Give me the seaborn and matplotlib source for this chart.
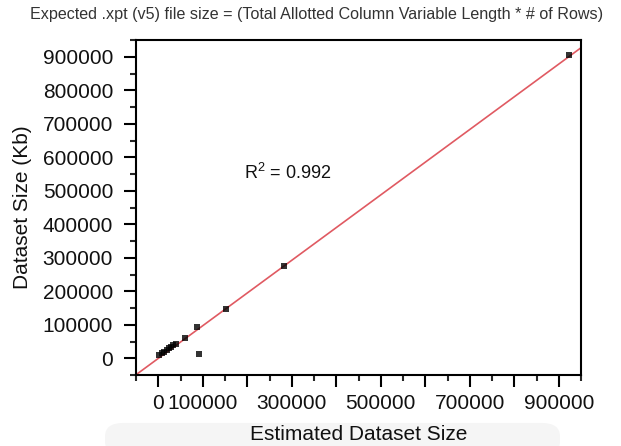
import matplotlib
matplotlib.use("Agg")
import matplotlib.pyplot as plt
import seaborn as sns
import numpy as np
import pandas as pd
from matplotlib.ticker import FixedLocator, FixedFormatter, MultipleLocator
from matplotlib.patches import FancyBboxPatch

sns.set_style("white")
plt.rcParams["font.family"] = ["Liberation Sans", "DejaVu Sans"]
plt.rcParams["mathtext.fontset"] = "custom"
plt.rcParams["mathtext.rm"] = "Liberation Sans"
plt.rcParams["mathtext.it"] = "Liberation Sans"

# Data (estimated from reference)
estimated_size = [1000, 8300, 13400, 18800, 23300, 28400, 33600, 39600,
                  60400, 88100, 91700, 151500, 281900, 923300]
dataset_size = [9000, 15800, 20000, 25900, 29800, 33700, 38700, 43800,
                61700, 93300, 14000, 148000, 275000, 905900]
x_ticks = [0, 100000, 200000, 300000, 400000, 500000, 600000, 700000, 800000, 900000]
x_tick_labels = ["0", "100000", "", "300000", "", "500000", "", "700000", "", "900000"]
y_ticks = [0, 100000, 200000, 300000, 400000, 500000, 600000, 700000, 800000, 900000]
y_tick_labels = [str(v) for v in y_ticks]
title = "Expected .xpt (v5) file size = (Total Allotted Column Variable Length * # of Rows)"
r2_text = "R$^2$ = 0.992"

df = pd.DataFrame({"est": estimated_size, "size": dataset_size})

fig = plt.figure(figsize=(6.21, 4.46), dpi=100)
# faint background artefact behind the x label
box = FancyBboxPatch((105/621, -0.02), (560-105)/621, 32/446,
                     boxstyle="round,pad=0,rounding_size=0.03",
                     transform=fig.transFigure, facecolor="#f5f5f5",
                     edgecolor="none", zorder=-5)
fig.patches.append(box)
ax = fig.add_axes([136/621, 1-375/446, (581-136)/621, (375-40)/446])
ax.patch.set_alpha(0)
ax.set_xlim(-50000, 950000)
ax.set_ylim(-50000, 950000)

sns.regplot(data=df, x="est", y="size", ax=ax, ci=None, truncate=False,
            marker="s", scatter_kws={"s": 14, "color": "black", "linewidths": 0, "zorder": 3},
            line_kws={"color": "#e05a62", "linewidth": 1.2, "zorder": 2})

ax.set_xlim(-50000, 950000)
ax.set_ylim(-50000, 950000)

ax.xaxis.set_major_locator(FixedLocator(x_ticks))
ax.xaxis.set_major_formatter(FixedFormatter(x_tick_labels))
ax.xaxis.set_minor_locator(MultipleLocator(50000))
ax.yaxis.set_major_locator(FixedLocator(y_ticks))
ax.yaxis.set_major_formatter(FixedFormatter(y_tick_labels))
ax.yaxis.set_minor_locator(MultipleLocator(50000))

ax.tick_params(axis="both", which="major", direction="out", length=8.5, width=1.5,
               labelsize=15, colors="black", labelcolor="#111111",
               bottom=True, left=True)
ax.tick_params(axis="x", which="major", pad=5)
ax.tick_params(axis="y", which="major", pad=8)
ax.tick_params(axis="both", which="minor", direction="out", length=4.5, width=1.5,
               bottom=True, left=True)
for s in ax.spines.values():
    s.set_linewidth(1.5)
    s.set_color("black")

ax.set_xlabel("Estimated Dataset Size", fontsize=15, color="#111111", labelpad=9)
ax.set_ylabel("Dataset Size (Kb)", fontsize=15, color="#111111", labelpad=8)
ax.text(290000, 554000, r2_text, fontsize=13, color="#111111", ha="center", va="center")

fig.text(0.510, 1-15/446, title, ha="center", va="center", fontsize=11.6, color="#333333")

fig.savefig("out.png", dpi=100)
